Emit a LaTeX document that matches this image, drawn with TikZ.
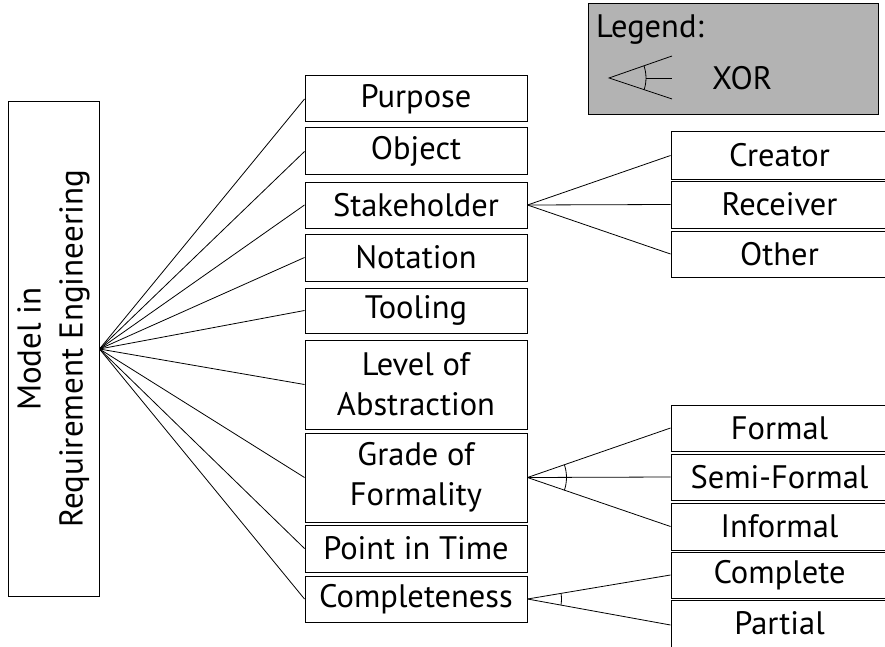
\documentclass[tikz,border=0pt]{standalone}
\usepackage{fontspec}
\setmainfont{PT Sans}
\definecolor{legendgray}{RGB}{179,179,179}
\begin{document}
\begin{tikzpicture}[x=1pt,y=-1pt,
  box/.style={draw=black,line width=1pt,inner sep=0pt,align=center,font=\fontsize{32.5}{40}\selectfont},
  mid/.style={box,minimum width=222pt},
  leaf/.style={box,minimum width=217pt},
  link/.style={line width=0.8pt}]
\useasboundingbox (0,0) rectangle (885,647);
% legend
\node[draw=black,line width=1pt,fill=legendgray,minimum width=290pt,minimum height=111pt,inner sep=0pt] (legend) at (733,59.5) {};
\node[anchor=west,inner sep=0pt,font=\fontsize{32.5}{40}\selectfont] (legtitle) at (596,30) {Legend:};
\node[anchor=west,inner sep=0pt,font=\fontsize{32.5}{40}\selectfont] (xor) at (712,78) {XOR};
\coordinate (la) at (609,78);
\coordinate (lu) at (672,56);
\coordinate (ll) at (672,99);
\coordinate (lm) at (646,78);
\coordinate (lme) at (672,78);
\draw[link] (lu) -- (la) -- (ll);
\draw[link] (lm) -- (lme);
\begin{scope}
\clip (la) -- (lu) -- (ll) -- cycle;
\draw[link] (la) circle[radius=37pt];
\end{scope}
% main
\node[box,minimum width=91pt,minimum height=494pt] (main) at (53.5,349) {};
\node[rotate=90,align=center,inner sep=0pt,font=\fontsize{33}{42}\selectfont] (maintext) at (53.5,349) {Model in\\Requirement Engineering};
% middle column
\node[mid,minimum height=46pt] (purpose) at (416,99) {Purpose};
\node[mid,minimum height=47pt] (object) at (416,151.5) {Object};
\node[mid,minimum height=46pt] (stake) at (416,205) {Stakeholder};
\node[mid,minimum height=47pt] (notation) at (416,257.5) {Notation};
\node[mid,minimum height=45pt] (tooling) at (416,310.5) {Tooling};
\node[mid,minimum height=89pt] (level) at (416,384.5) {Level of\\Abstraction};
\node[mid,minimum height=89pt] (grade) at (416,477.5) {Grade of\\Formality};
\node[mid,minimum height=47pt] (point) at (416,548.5) {Point in Time};
\node[mid,minimum height=46pt] (compl) at (416,599) {Completeness};
% right column
\node[leaf,minimum height=47pt] (creator) at (779.5,155.5) {Creator};
\node[leaf,minimum height=47pt] (receiver) at (779.5,204.5) {Receiver};
\node[leaf,minimum height=46pt] (other) at (779.5,254) {Other};
\node[leaf,minimum height=46pt] (formal) at (779.5,428) {Formal};
\node[leaf,minimum height=46pt] (semi) at (779.5,477) {Semi-Formal};
\node[leaf,minimum height=47pt] (informal) at (779.5,526.5) {Informal};
\node[leaf,minimum height=46pt] (complete) at (779.5,575) {Complete};
\node[leaf,minimum height=50pt,text depth=4pt] (partial) at (779.5,625) {Partial};
% links from main
\foreach \n in {purpose,object,stake,notation,tooling,level,grade,point,compl}
  \draw[link] (main.east) -- (\n.west);
% stakeholder
\foreach \n in {creator,receiver,other}
  \draw[link] (stake.east) -- (\n.west);
% grade
\foreach \n in {formal,semi,informal}
  \draw[link] (grade.east) -- (\n.west);
\begin{scope}
\clip (grade.east) -- (formal.west) -- (informal.west) -- cycle;
\draw[link] (grade.east) circle[radius=39pt];
\end{scope}
% completeness
\foreach \n in {complete,partial}
  \draw[link] (compl.east) -- (\n.west);
\begin{scope}
\clip (compl.east) -- (complete.west) -- (partial.west) -- cycle;
\draw[link] (compl.east) circle[radius=34pt];
\end{scope}
\end{tikzpicture}
\end{document}
